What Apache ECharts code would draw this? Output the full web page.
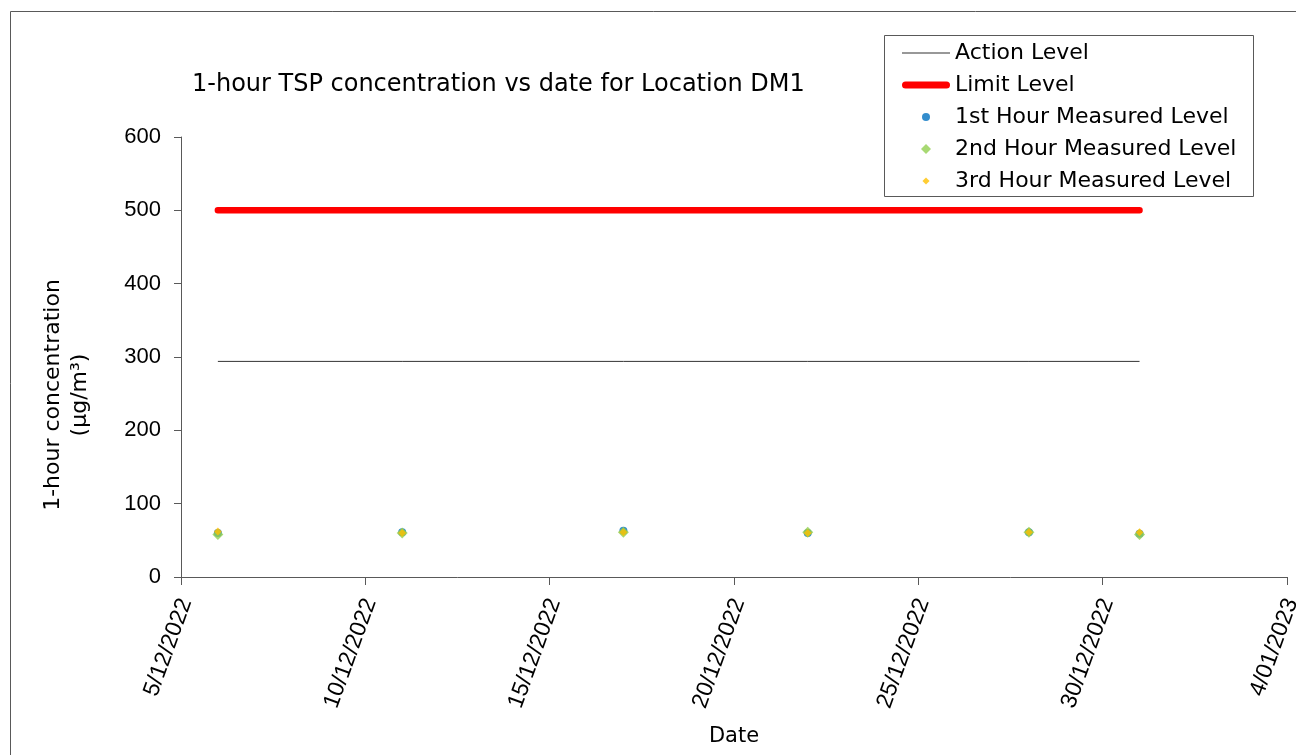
<!DOCTYPE html>
<html><head><meta charset="utf-8">
<script src="https://cdn.jsdelivr.net/npm/echarts@6/dist/echarts.min.js"></script>
<style>html,body{margin:0;padding:0;background:#fff}#c{width:1296px;height:755px}</style>
</head><body><div id="c"></div>
<script>
// ---- data ----
const dates = ['2022-12-06','2022-12-11','2022-12-17','2022-12-22','2022-12-28','2022-12-31'];
const hour1 = [60, 61, 63, 60, 61, 59];
const hour2 = [58, 60, 61, 61, 61, 58];
const hour3 = [62, 60, 61, 60, 61, 61];
const actionLevel = [294, 294, 294, 294, 294, 294];
const limitLevel = [500, 500, 500, 500, 500, 500];
const axisStart = '2022-12-05';
const axisDays = 30;
const axisStepDays = 5;
const yTicks = [0, 100, 200, 300, 400, 500, 600];

const DAY = 86400000;
function toUTC(s){const p=s.split('-').map(Number);return Date.UTC(p[0],p[1]-1,p[2]);}
const t0 = toUTC(axisStart);
const xs = dates.map(d => (toUTC(d) - t0) / DAY);
const pair = arr => xs.map((x,i)=>[x, arr[i]]);
function fmt(v){const d=new Date(t0+v*DAY);const m=d.getUTCMonth()+1;return d.getUTCDate()+'/'+(m<10?'0'+m:m)+'/'+d.getUTCFullYear();}

const FONT = 'Liberation Sans';
const WFONT = 'DejaVu Sans';
const actionIcon = 'path://M0,0L48,0L48,1.2L0,1.2Z';
const limitIcon = 'path://M3.5,0L44.5,0A3.5,3.5,0,0,1,44.5,7L3.5,7A3.5,3.5,0,0,1,3.5,0Z';
const circleIcon = 'path://M-1.25,-1.25M1.25,1.25M-1,0A1,1,0,1,0,1,0A1,1,0,1,0,-1,0Z';
const diamondBig = 'path://M0,-1L1,0L0,1L-1,0Z';
const diamondSmall = 'path://M-1.4,-1.4M1.4,1.4M0,-1L1,0L0,1L-1,0Z';

const chart = echarts.init(document.getElementById('c'), null, {renderer:'canvas'});
chart.setOption({
  animation:false,
  backgroundColor:'#fff',
  textStyle:{fontFamily:FONT},
  title:{text:'1-hour TSP concentration vs date for Location DM1',left:187,top:68,
    textStyle:{fontFamily:WFONT,fontSize:24,fontWeight:'normal',color:'#000'}},
  graphic:[
    {type:'rect',shape:{x:10.5,y:11.5,width:1300,height:760},style:{fill:'none',stroke:'#595959',lineWidth:1},silent:true},
    {type:'rect',shape:{x:884.5,y:35.5,width:369,height:161},style:{fill:'#fff',stroke:'#595959',lineWidth:1},silent:true,z:-1}
  ],
  legend:{
    orient:'vertical',left:902,top:42,itemWidth:48,itemHeight:10,itemGap:10,padding:0,
    textStyle:{fontFamily:WFONT,fontSize:22,color:'#000'},
    data:[
      {name:'Action Level',icon:actionIcon},
      {name:'Limit Level',icon:limitIcon},
      {name:'1st Hour Measured Level',icon:circleIcon},
      {name:'2nd Hour Measured Level',icon:diamondBig},
      {name:'3rd Hour Measured Level',icon:diamondSmall}
    ]
  },
  grid:{left:181,right:9,top:137,bottom:178,containLabel:false,outerBoundsMode:'none'},
  xAxis:{
    type:'value',min:0,max:axisDays,interval:axisStepDays,
    name:'Date',nameLocation:'middle',nameGap:149,
    nameTextStyle:{fontFamily:WFONT,fontSize:21,color:'#000'},
    axisLine:{show:true,lineStyle:{color:'#595959',width:1}},
    axisTick:{show:true,inside:false,length:8,lineStyle:{color:'#595959'}},
    axisLabel:{rotate:70,margin:12,padding:[0,8,0,0],verticalAlign:'top',lineHeight:16,
      fontFamily:FONT,fontSize:23,color:'#000',formatter:fmt},
    splitLine:{show:false}
  },
  yAxis:{
    type:'value',min:yTicks[0],max:yTicks[yTicks.length-1],interval:yTicks[1]-yTicks[0],
    name:'1-hour concentration\n(µg/m³)',nameLocation:'middle',nameGap:87,
    nameTextStyle:{fontFamily:WFONT,fontSize:22,color:'#000',lineHeight:27,padding:[0,76,0,0]},
    axisLine:{show:true,lineStyle:{color:'#595959',width:1}},
    axisTick:{show:true,inside:false,length:7,lineStyle:{color:'#595959'}},
    axisLabel:{margin:20,fontFamily:FONT,fontSize:22,color:'#000'},
    splitLine:{show:false}
  },
  series:[
    {name:'Action Level',type:'line',data:pair(actionLevel),showSymbol:false,symbol:'none',
      lineStyle:{color:'#333333',width:1},itemStyle:{color:'#333333'},z:2},
    {name:'Limit Level',type:'line',data:pair(limitLevel),showSymbol:false,symbol:'none',
      lineStyle:{color:'#ff0000',width:6.5,cap:'round'},itemStyle:{color:'#ff0000'},z:2},
    {name:'1st Hour Measured Level',type:'scatter',data:pair(hour1),symbol:'circle',symbolSize:8,
      itemStyle:{color:'#0070c0'},z:3},
    {name:'2nd Hour Measured Level',type:'scatter',data:pair(hour2),symbol:'diamond',symbolSize:11,
      itemStyle:{color:'#92d050'},z:4},
    {name:'3rd Hour Measured Level',type:'scatter',data:pair(hour3),symbol:'diamond',symbolSize:8,
      itemStyle:{color:'#ffc000'},z:5}
  ]
});
</script></body></html>
